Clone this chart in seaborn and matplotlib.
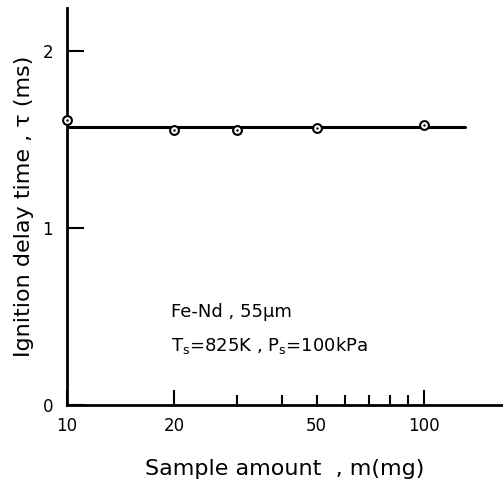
import numpy as np
import pandas as pd
import matplotlib
matplotlib.use("Agg")
import matplotlib.pyplot as plt
import seaborn as sns

# Messwerte
sample_mg = [10, 20, 30, 50, 100]
delay_ms = [1.61, 1.55, 1.55, 1.56, 1.58]

# Ausgleichsgerade (konstant)
fit_mg = [10, 130]
fit_ms = [1.57, 1.57]

x_ticks = [10, 20, 50, 100]
x_minor = [30, 40, 60, 70, 80, 90]
y_ticks = [0, 1, 2]

sns.set_style("ticks")
plt.rcParams['font.family'] = ['DejaVu Sans']
plt.rcParams['text.color'] = 'black'
plt.rcParams['axes.labelcolor'] = 'black'
plt.rcParams['xtick.color'] = 'black'
plt.rcParams['ytick.color'] = 'black'
plt.rcParams['axes.edgecolor'] = 'black'

fig = plt.figure(figsize=(5.03, 4.83), dpi=100)
ax = fig.add_axes([0.133, 0.1615, 0.865, 0.822])

df = pd.DataFrame({'m': sample_mg, 'tau': delay_ms})
fit = pd.DataFrame({'m': fit_mg, 'tau': fit_ms})

sns.lineplot(data=fit, x='m', y='tau', color='black', linewidth=2.2, ax=ax)
sns.scatterplot(data=df, x='m', y='tau', marker='o', s=40, facecolor='white',
                edgecolor='black', linewidth=1.5, zorder=3, clip_on=False, ax=ax)
sns.scatterplot(data=df, x='m', y='tau', marker='o', s=3, color='black',
                linewidth=0, zorder=4, clip_on=False, ax=ax)

ax.set_xscale('log')
ax.set_xlim(10, 165)
ax.set_ylim(0, 2.24)

ax.set_xticks(x_ticks)
ax.set_xticklabels([str(v) for v in x_ticks])
ax.set_xticks(x_minor, minor=True)
ax.set_xticklabels([], minor=True)
ax.set_yticks(y_ticks)
ax.set_yticklabels([str(v) for v in y_ticks])

ax.tick_params(axis='x', which='major', direction='in', length=11, width=1.5,
               labelsize=12, pad=9)
ax.tick_params(axis='x', which='minor', direction='in', length=7, width=1.5)
ax.tick_params(axis='y', which='major', direction='in', length=12, width=1.5,
               labelsize=12, pad=10)
# 50 kuerzer wie die Zwischenstriche
ax.xaxis.get_major_ticks()[2].tick1line.set_markersize(7)

for s in ['top', 'right']:
    ax.spines[s].set_visible(False)
for s in ['left', 'bottom']:
    ax.spines[s].set_linewidth(2)

ax.set_xlabel('Sample amount  , m(mg)', fontsize=16, labelpad=17)
ax.set_ylabel('Ignition delay time , τ (ms)', fontsize=16, labelpad=6)

ax.text(0.24, 0.234, 'Fe-Nd , 55μm', transform=ax.transAxes, fontsize=13,
        va='center')
ax.text(0.24, 0.151, r'T$_\mathrm{s}$=825K , P$_\mathrm{s}$=100kPa',
        transform=ax.transAxes, fontsize=13, va='center')

fig.savefig('out.png', dpi=100)
